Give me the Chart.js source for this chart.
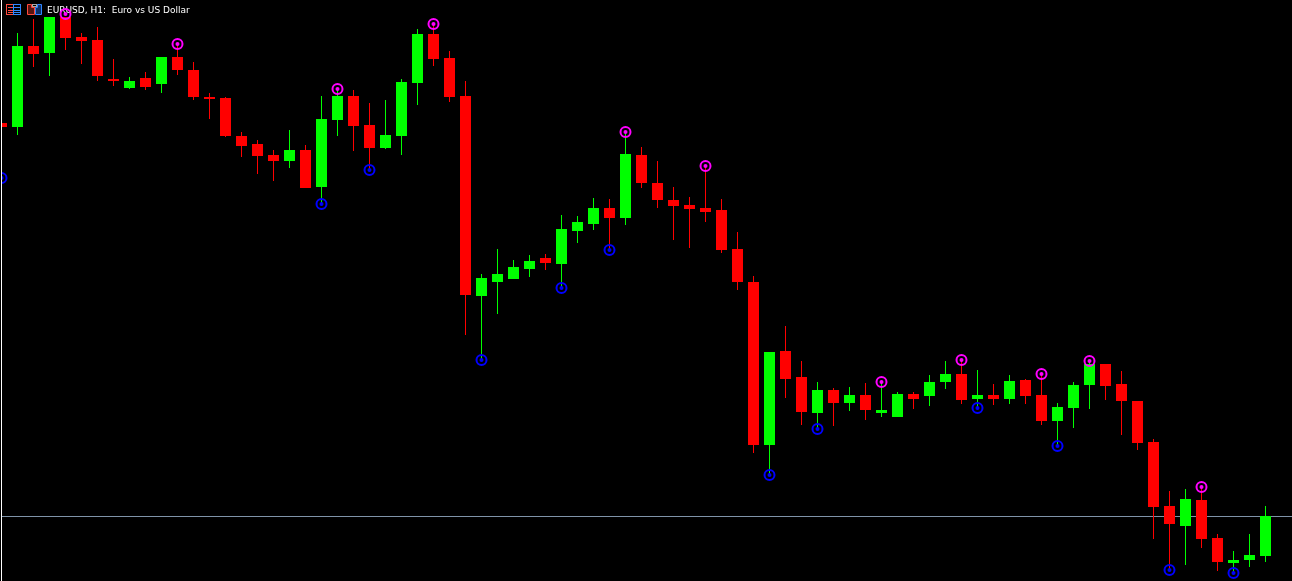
<!DOCTYPE html>
<html>
<head>
<meta charset="utf-8">
<title>EURUSD, H1</title>
<script src="https://cdn.jsdelivr.net/npm/chart.js@4"></script>
<style>
    html, body { margin: 0; padding: 0; background: #000; overflow: hidden; }
    canvas { display: block; }
</style>
</head>
<body>
<canvas id="candleChart" width="1292" height="581"></canvas>
<script>
// prices in points above 1.07000
const opens = [
    877, 873, 954, 947, 983, 963, 960, 921, 912, 922, 916, 943, 930, 903, 902, 864, 856, 845, 839, 850,
    813, 880, 904, 875, 852, 864, 917, 966, 942, 904, 704, 718, 721, 731, 742, 736, 769, 776, 792, 782,
    845, 817, 800, 795, 792, 790, 751, 718, 555, 649, 623, 587, 610, 597, 605, 587, 583, 606, 604, 618,
    626, 601, 605, 601, 620, 605, 579, 592, 615, 636, 616, 599, 558, 494, 474, 500, 462, 437, 440, 444
];
const highs = [
    877, 967, 981, 983, 983, 967, 973, 941, 923, 928, 943, 956, 938, 907, 903, 868, 860, 850, 870, 855,
    904, 911, 910, 897, 900, 921, 971, 976, 949, 919, 726, 751, 740, 745, 746, 785, 784, 802, 801, 868,
    853, 839, 813, 803, 834, 801, 768, 724, 648, 674, 639, 618, 612, 613, 617, 618, 608, 608, 625, 639,
    640, 630, 616, 625, 621, 626, 597, 618, 639, 636, 629, 599, 561, 509, 511, 513, 466, 449, 466, 494
];
const lows = [
    826, 865, 933, 924, 950, 936, 919, 914, 911, 910, 907, 925, 900, 881, 863, 843, 826, 819, 832, 812,
    796, 864, 849, 830, 851, 845, 895, 934, 898, 665, 640, 686, 721, 723, 730, 712, 757, 770, 750, 775,
    812, 792, 760, 752, 778, 747, 710, 547, 525, 602, 575, 571, 574, 589, 580, 583, 583, 591, 594, 611,
    596, 592, 595, 596, 596, 575, 554, 572, 591, 600, 565, 550, 461, 430, 435, 452, 429, 427, 433, 438
];
const closes = [
    873, 954, 946, 983, 962, 959, 924, 919, 919, 913, 943, 930, 903, 901, 864, 854, 844, 839, 850, 812,
    881, 904, 874, 852, 865, 918, 966, 941, 903, 705, 722, 726, 733, 739, 737, 771, 778, 792, 782, 846,
    817, 800, 794, 791, 788, 750, 718, 555, 648, 621, 588, 610, 597, 605, 590, 590, 606, 601, 618, 626,
    600, 605, 601, 619, 604, 579, 593, 615, 636, 614, 599, 557, 493, 476, 501, 461, 438, 440, 445, 484
];

// indicator signals: bar index and level
const upperBars = [4, 11, 21, 27, 39, 44, 55, 60, 65, 68, 75];
const upperLevels = [986, 956, 911, 976, 868, 834, 618, 640, 626, 639, 513];
const lowerBars = [0, 20, 23, 30, 35, 38, 48, 51, 61, 66, 73, 77];
const lowerLevels = [822, 796, 830, 640, 712, 750, 525, 571, 592, 554, 430, 427];

const bidLevel = 483.5;
const titleText = 'EURUSD, H1:  Euro vs US Dollar';

const priceMin = 419;
const priceMax = 1000;
const barMin = -0.09375;
const barMax = 80.65625;

const colors = {
    up: '#00ff00',
    down: '#ff0000',
    upper: '#ff00ff',
    lower: '#0000ff',
    bid: '#7f93a8',
    edge: '#ffffff',
    background: '#000000',
    text: '#ffffff',
    iconRed: '#ff4a3d',
    iconBlue: '#2f86ff',
    iconGrey: '#a8a8a8'
};

const barColors = opens.map((open, i) => closes[i] >= open ? colors.up : colors.down);

function signalPoints(bars, levels) {
    return bars.map((bar, i) => ({ x: bar, y: levels[i] }));
}

function tracePath(ctx, points) {
    ctx.beginPath();
    points.forEach(([x, y], i) => {
        if (i === 0) ctx.moveTo(x, y);
        else ctx.lineTo(x, y);
    });
    ctx.closePath();
}

// toolbar icons and the symbol caption under the candles, window edge over them
const framePlugin = {
    id: 'frame',
    beforeDatasetsDraw(chart) {
        const ctx = chart.ctx;
        ctx.save();
        ctx.lineWidth = 1;

        // table icon
        ctx.strokeStyle = colors.iconRed;
        ctx.strokeRect(6.5, 4.5, 7, 10);
        ctx.beginPath();
        [7.5, 10.5, 12.5].forEach(y => {
            ctx.moveTo(8, y);
            ctx.lineTo(13, y);
        });
        ctx.stroke();
        ctx.strokeStyle = colors.iconBlue;
        ctx.strokeRect(13.5, 4.5, 7, 10);
        ctx.beginPath();
        [7.5, 10.5, 12.5].forEach(y => {
            ctx.moveTo(14, y);
            ctx.lineTo(20, y);
        });
        ctx.stroke();

        // profile icon
        tracePath(ctx, [[27.5, 4.5], [31.5, 4.5], [31.5, 7.5], [34.5, 7.5], [34.5, 14.5], [27.5, 14.5]]);
        ctx.fillStyle = '#5a1410';
        ctx.fill();
        ctx.strokeStyle = colors.iconRed;
        ctx.stroke();
        tracePath(ctx, [[41.5, 4.5], [37.5, 4.5], [37.5, 7.5], [35.5, 7.5], [35.5, 14.5], [41.5, 14.5]]);
        ctx.fillStyle = '#0d2f66';
        ctx.fill();
        ctx.strokeStyle = colors.iconBlue;
        ctx.stroke();
        ctx.strokeStyle = colors.iconGrey;
        ctx.strokeRect(32.5, 4.5, 4, 2);

        ctx.fillStyle = colors.text;
        ctx.font = '9px "DejaVu Sans"';
        ctx.textBaseline = 'alphabetic';
        ctx.textAlign = 'left';
        ctx.fillText(titleText, 47, 13);
        ctx.restore();
    },
    afterDatasetsDraw(chart) {
        const ctx = chart.ctx;
        ctx.save();
        ctx.fillStyle = colors.background;
        ctx.fillRect(0, 0, 1, chart.height);
        ctx.fillStyle = colors.edge;
        ctx.fillRect(1, 0, 1, chart.height);
        ctx.restore();
    }
};

const datasets = [
    {
        type: 'line',
        order: 5,
        data: [{ x: barMin, y: bidLevel }, { x: barMax, y: bidLevel }],
        borderColor: colors.bid,
        borderWidth: 1,
        pointRadius: 0
    },
    {
        type: 'bar',
        order: 4,
        data: lows.map((low, i) => ({ x: i, y: [low, highs[i]] })),
        backgroundColor: barColors,
        maxBarThickness: 1,
        inflateAmount: 0,
        grouped: false,
        barPercentage: 1,
        categoryPercentage: 1
    },
    {
        type: 'bar',
        order: 3,
        data: opens.map((open, i) => ({ x: i, y: [open, closes[i]] })),
        backgroundColor: barColors,
        maxBarThickness: 11,
        inflateAmount: 0,
        grouped: false,
        barPercentage: 1,
        categoryPercentage: 1
    },
    {
        type: 'scatter',
        order: 2,
        data: signalPoints(upperBars, upperLevels),
        pointStyle: 'circle',
        pointRadius: 5,
        pointBorderWidth: 2,
        pointBorderColor: colors.upper,
        pointBackgroundColor: 'rgba(0,0,0,0)'
    },
    {
        type: 'scatter',
        order: 2,
        data: signalPoints(lowerBars, lowerLevels),
        pointStyle: 'circle',
        pointRadius: 5,
        pointBorderWidth: 2,
        pointBorderColor: colors.lower,
        pointBackgroundColor: 'rgba(0,0,0,0)'
    },
    {
        type: 'scatter',
        order: 1,
        data: signalPoints(upperBars, upperLevels),
        pointStyle: 'circle',
        pointRadius: 2,
        pointBorderWidth: 0,
        pointBackgroundColor: colors.upper
    },
    {
        type: 'scatter',
        order: 1,
        data: signalPoints(lowerBars, lowerLevels),
        pointStyle: 'circle',
        pointRadius: 2,
        pointBorderWidth: 0,
        pointBackgroundColor: colors.lower
    }
];

new Chart(document.getElementById('candleChart').getContext('2d'), {
    data: { datasets: datasets },
    options: {
        responsive: false,
        animation: false,
        events: [],
        layout: { padding: 0, autoPadding: false },
        plugins: {
            legend: { display: false },
            title: { display: false },
            tooltip: { enabled: false }
        },
        scales: {
            x: {
                type: 'linear',
                display: false,
                offset: false,
                min: barMin,
                max: barMax
            },
            y: {
                type: 'linear',
                display: false,
                min: priceMin,
                max: priceMax
            }
        }
    },
    plugins: [framePlugin]
});
</script>
</body>
</html>
